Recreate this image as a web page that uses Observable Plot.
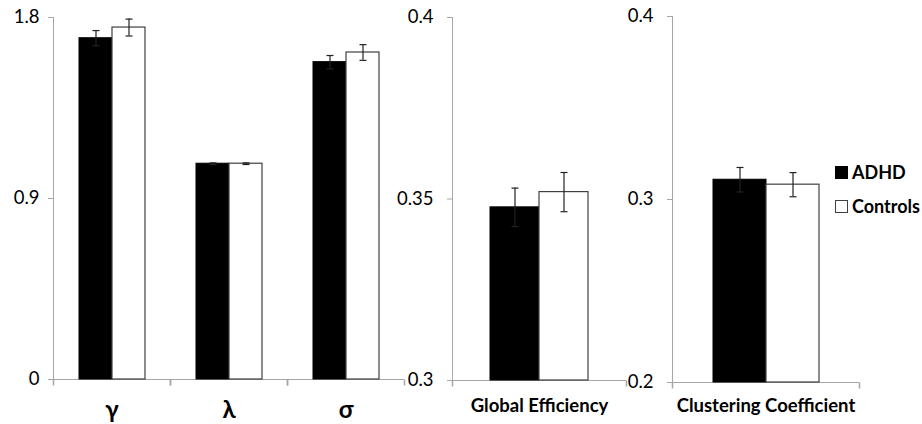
<!DOCTYPE html>
<html>
<head>
<meta charset="utf-8">
<script src="https://cdn.jsdelivr.net/npm/d3@7"></script>
<script src="https://cdn.jsdelivr.net/npm/@observablehq/plot@0.6"></script>
<style>
  html, body { margin: 0; padding: 0; background: white; }
  #wrap { position: relative; width: 922px; height: 424px; background: white; overflow: hidden; font-family: Lato, "Open Sans", sans-serif; }
  #wrap svg { position: absolute; top: 0; }
  .legend-item { position: absolute; left: 835px; display: flex; align-items: center; font-weight: bold; font-size: 18px; color: #000; line-height: 1; }
  .legend-item .sw { width: 13px; height: 13px; box-sizing: border-box; margin-right: 4px; }
</style>
</head>
<body>
<div id="wrap"></div>
<script>
// ---- data ----
const groups = ["ADHD", "Controls"];

const smallWorldCats = ["γ", "λ", "σ"];
const smallWorldADHD = [1.697, 1.073, 1.578];
const smallWorldControls = [1.750, 1.073, 1.626];
const smallWorldADHDErr = [0.038, 0.004, 0.033];
const smallWorldControlsErr = [0.042, 0.004, 0.039];
const smallWorldTicks = [0, 0.9, 1.8];

const effCats = ["Global Efficiency"];
const effADHD = [0.3477];
const effControls = [0.3519];
const effADHDErr = [0.0053];
const effControlsErr = [0.0054];
const effTicks = [0.3, 0.35, 0.4];

const clustCats = ["Clustering Coefficient"];
const clustADHD = [0.3108];
const clustControls = [0.3081];
const clustADHDErr = [0.0067];
const clustControlsErr = [0.0066];
const clustTicks = [0.2, 0.3, 0.4];

// ---- helpers ----
function rowsOf(cats, a, c, ae, ce) {
  const rows = [];
  cats.forEach((cat, i) => {
    rows.push({cat, group: groups[0], value: a[i], err: ae[i]});
    rows.push({cat, group: groups[1], value: c[i], err: ce[i]});
  });
  return rows;
}

const tickDown = {draw(ctx) { ctx.moveTo(0, 0); ctx.lineTo(0, 6); }};
const cap = {draw(ctx) { ctx.moveTo(-3.5, 0); ctx.lineTo(3.5, 0); }};

function panel(o) {
  const rows = rowsOf(o.cats, o.adhd, o.ctrl, o.adhdErr, o.ctrlErr);
  const base = o.ticks[0];
  const svg = Plot.plot({
    width: o.width,
    height: 424,
    marginLeft: o.mL, marginRight: o.mR, marginTop: o.mT, marginBottom: o.mB,
    style: {background: "transparent", overflow: "visible", fontFamily: "Lato, 'Open Sans', sans-serif", color: "#000"},
    fx: {domain: o.cats, padding: 0, label: null},
    x: {domain: groups, paddingInner: 0, paddingOuter: o.pad, axis: null},
    y: {domain: [o.ticks[0], o.ticks[o.ticks.length - 1]], axis: null},
    marks: [
      Plot.frame({anchor: "left", facetAnchor: "left", stroke: "#a6a6a6"}),
      Plot.ruleY([base], {stroke: "#a6a6a6"}),
      Plot.dot(o.cats, {fx: d => d, frameAnchor: "bottom-left", symbol: tickDown, stroke: "#a6a6a6", fill: "none"}),
      Plot.dot(o.cats, {fx: d => d, frameAnchor: "bottom-right", symbol: tickDown, stroke: "#a6a6a6", fill: "none"}),
      Plot.axisY({ticks: o.ticks, tickSize: 5, tickPadding: o.tickPad, tickFormat: d => String(d),
                  stroke: "#a6a6a6", fill: "#000", fontSize: 18.5, label: null}),
      Plot.axisFx({anchor: "bottom", tickSize: 0, tickPadding: o.labelPad, fontSize: o.labelSize, fontWeight: "bold", fill: "#000", label: null}),
      Plot.barY(rows, {filter: d => d.group === "ADHD", fx: "cat", x: "group", y1: () => base, y2: "value", fill: "#000", stroke: "#000"}),
      Plot.barY(rows, {filter: d => d.group === "Controls", fx: "cat", x: "group", y1: () => base, y2: "value", fill: "#fff", stroke: "#404040", strokeWidth: 1.2}),
      Plot.ruleX(rows, {fx: "cat", x: "group", y1: d => d.value - d.err, y2: d => d.value + d.err, stroke: "#222", strokeWidth: 1.2}),
      Plot.dot(rows, {fx: "cat", x: "group", y: d => d.value + d.err, symbol: cap, stroke: "#222", fill: "none", strokeWidth: 1.2}),
      Plot.dot(rows, {fx: "cat", x: "group", y: d => d.value - d.err, symbol: cap, stroke: "#222", fill: "none", strokeWidth: 1.2})
    ]
  });
  svg.style.left = o.left + "px";
  document.getElementById("wrap").appendChild(svg);
}

panel({cats: smallWorldCats, adhd: smallWorldADHD, ctrl: smallWorldControls, adhdErr: smallWorldADHDErr, ctrlErr: smallWorldControlsErr,
       ticks: smallWorldTicks, left: 0, width: 412, mL: 52, mR: 7, mT: 17, mB: 45, pad: 0.73, tickPad: 9, labelPad: 21, labelSize: 24});
panel({cats: effCats, adhd: effADHD, ctrl: effControls, adhdErr: effADHDErr, ctrlErr: effControlsErr,
       ticks: effTicks, left: 400, width: 232, mL: 52, mR: 6, mT: 17, mB: 44, pad: 0.76, tickPad: 14, labelPad: 18, labelSize: 18.5});
panel({cats: clustCats, adhd: clustADHD, ctrl: clustControls, adhdErr: clustADHDErr, ctrlErr: clustControlsErr,
       ticks: clustTicks, left: 620, width: 302, mL: 52, mR: 63, mT: 16, mB: 42, pad: 0.75, tickPad: 14, labelPad: 16, labelSize: 18.5});

// legend
const wrap = document.getElementById("wrap");
[["ADHD", "#000", "#000", 163], ["Controls", "#fff", "#404040", 197]].forEach(([name, fill, stroke, top]) => {
  const item = document.createElement("div");
  item.className = "legend-item";
  item.style.top = top + "px";
  const sw = document.createElement("span");
  sw.className = "sw";
  sw.style.background = fill;
  sw.style.border = "1px solid " + stroke;
  item.appendChild(sw);
  const t = document.createElement("span");
  t.textContent = name;
  item.appendChild(t);
  wrap.appendChild(item);
});
</script>
</body>
</html>
